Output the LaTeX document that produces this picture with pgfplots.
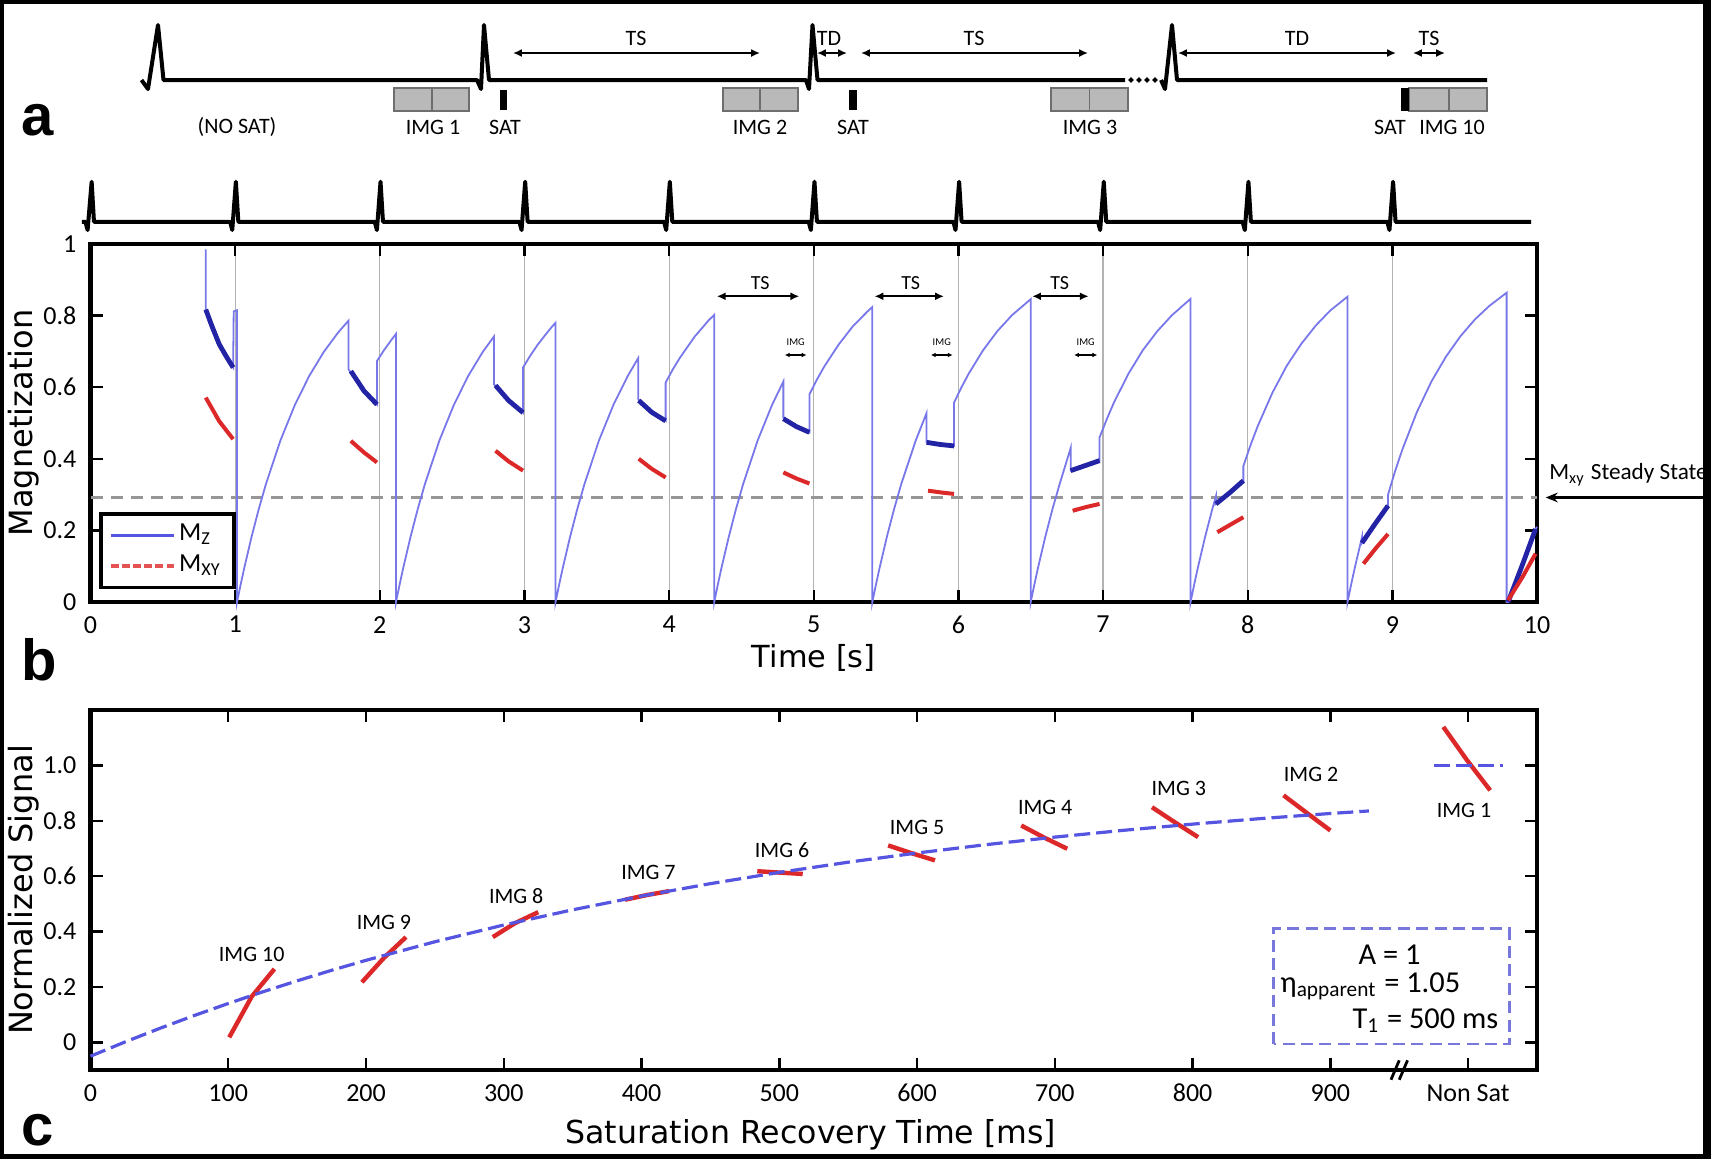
\documentclass[border=0pt]{standalone}
\usepackage{fontspec}
\setmainfont{Carlito}
\newfontfamily\dejavu{DejaVu Sans}
\newfontfamily\lsans{Liberation Sans}
\usepackage{pgfplots}
\pgfplotsset{compat=1.18}
\usetikzlibrary{arrows.meta}
\definecolor{mzthin}{RGB}{120,120,235}
\definecolor{mzdark}{RGB}{35,35,165}
\definecolor{mxyred}{RGB}{220,40,40}
\definecolor{fitblue}{RGB}{85,85,225}
\definecolor{boxblue}{RGB}{120,120,220}
\definecolor{boxgray}{RGB}{185,185,185}
\definecolor{boxedge}{RGB}{110,110,110}
\definecolor{ssgray}{RGB}{150,150,150}
\pgfplotsset{/pgf/number format/assume math mode=true}
\tikzset{
  dblarr/.style={{Latex[length=2.2pt,width=2pt]}-{Latex[length=2.2pt,width=2pt]}, line width=0.55pt},
  smallarr/.style={{Latex[length=1.2pt,width=1.2pt]}-{Latex[length=1.2pt,width=1.2pt]}, line width=0.35pt},
}
\pgfplotsset{
  mzd/.style={mzdark, line width=1.2pt, forget plot},
  mxyb/.style={mxyred, line width=1pt, forget plot},
  mxyc/.style={mxyred, line width=1.1pt, forget plot},
}
\begin{document}
\begin{tikzpicture}
\path[use as bounding box] (0,0) rectangle (427.75pt,-289.75pt);
\fill[white] (0,0) rectangle (427.75pt,-289.75pt);

% ---------------- Panel a (schematic, pixel coordinates) ----------------
\begin{axis}[at={(0pt,0pt)}, anchor=north west, scale only axis,
  width=427.75pt, height=37.5pt, xmin=0, xmax=1711, ymin=0, ymax=150,
  y dir=reverse, hide axis, clip=false]
\addplot[black, line width=1pt, line join=round] coordinates {
 (141.5,80)(148,89)(158,25)(163.5,80)
 (477,80)(481,89)(484,25)(489,80)
 (806,80)(809,89)(812.5,25)(817.5,80)(1125,80)};
\addplot[black, line width=1pt, line join=round] coordinates {
 (1161,80)(1165,89)(1172,25)(1177,80)(1487,80)};
\addplot[only marks, mark=*, mark size=0.45pt, black] coordinates {(1131,80)(1139,80)(1147,80)(1155,80)};
% image boxes
\draw[fill=boxgray, draw=boxedge, line width=0.4pt] (axis cs:394,88) rectangle (axis cs:469,111);
\draw[boxedge, line width=0.4pt] (axis cs:432,88) -- (axis cs:432,111);
\draw[fill=boxgray, draw=boxedge, line width=0.4pt] (axis cs:723,88) rectangle (axis cs:798,111);
\draw[boxedge, line width=0.4pt] (axis cs:760,88) -- (axis cs:760,111);
\draw[fill=boxgray, draw=boxedge, line width=0.4pt] (axis cs:1051,88) rectangle (axis cs:1128,111);
\draw[boxedge, line width=0.4pt] (axis cs:1089.5,88) -- (axis cs:1089.5,111);
\draw[fill=boxgray, draw=boxedge, line width=0.4pt] (axis cs:1409,88) rectangle (axis cs:1487,111);
\draw[boxedge, line width=0.4pt] (axis cs:1449,88) -- (axis cs:1449,111);
% SAT pulses
\fill[black] (axis cs:500,90) rectangle (axis cs:507,110);
\fill[black] (axis cs:849,90) rectangle (axis cs:857,110);
\fill[black] (axis cs:1401,88) rectangle (axis cs:1409,111);
% arrows
\draw[dblarr] (axis cs:513,53) -- (axis cs:760,53);
\draw[dblarr] (axis cs:817,53) -- (axis cs:847,53);
\draw[dblarr] (axis cs:861,53) -- (axis cs:1088,53);
\draw[dblarr] (axis cs:1178,53) -- (axis cs:1396,53);
\draw[dblarr] (axis cs:1413,53) -- (axis cs:1445,53);
\begin{scope}[every node/.style={font=\fontsize{5.5}{6}\selectfont, inner sep=0pt}]
\node at (axis cs:636,38) {TS};
\node at (axis cs:829,38) {TD};
\node at (axis cs:974,38) {TS};
\node at (axis cs:1297,38) {TD};
\node at (axis cs:1429,38) {TS};
\node at (axis cs:237,127) {(NO SAT)};
\node at (axis cs:433,127) {IMG 1};
\node at (axis cs:505,127) {SAT};
\node at (axis cs:760,127) {IMG 2};
\node at (axis cs:853,127) {SAT};
\node at (axis cs:1090,127) {IMG 3};
\node at (axis cs:1390,127) {SAT};
\node at (axis cs:1452,127) {IMG 10};
\end{scope}
\end{axis}

% ---------------- Panel b ----------------
\begin{axis}[at={(22.625pt,-150.5pt)}, anchor=south west, scale only axis,
  width=361.625pt, height=89.5pt,
  xmin=0, xmax=10, ymin=0, ymax=1,
  xtick={0,1,2,3,4,5,6,7,8,9,10}, ytick={0,0.2,0.4,0.6,0.8,1},
  tick label style={font=\fontsize{6.5}{7}\selectfont},
  major tick length=3pt, tick style={black, line width=0.6pt},
  axis line style={line width=1.1pt},
  xmajorgrids, grid style={black!30, line width=0.3pt},
  xlabel={Time [s]},
  xlabel style={font=\dejavu\fontsize{7.6}{9}\selectfont, at={(axis description cs:0.5,-0.157)}, anchor=center},
  ylabel={Magnetization},
  ylabel style={font=\dejavu\fontsize{8}{9}\selectfont, at={(axis description cs:-0.046,0.5)}, anchor=center},
  clip=false,
  legend style={at={(0.006,0.036)}, anchor=south west, draw=black, line width=0.9pt, fill=white,
    font=\fontsize{6.5}{7}\selectfont, inner xsep=2pt, inner ysep=1.5pt, row sep=0pt,
    nodes={inner sep=1pt}},
  legend cell align=left,
  legend image code/.code={\draw[#1] (0pt,0pt) -- (15.75pt,0pt);},
]
\addlegendimage{fitblue, line width=0.8pt}
\addlegendentry{M\textsubscript{Z}}
\addlegendimage{mxyred!80, line width=0.8pt, dash pattern=on 2pt off 0.8pt}
\addlegendentry{M\textsubscript{XY}}
% ECG trace
\addplot[black, line width=1pt, line join=round, forget plot] coordinates {
 (-0.06,1.062)
 (-0.035,1.062)(-0.02,1.039)(0.008,1.174)(0.024,1.062)
 (0.965,1.062)(0.98,1.039)(1.005,1.174)(1.022,1.062)
 (1.965,1.062)(1.98,1.039)(2.005,1.174)(2.022,1.062)
 (2.965,1.062)(2.98,1.039)(3.005,1.174)(3.022,1.062)
 (3.965,1.062)(3.98,1.039)(4.005,1.174)(4.022,1.062)
 (4.965,1.062)(4.98,1.039)(5.005,1.174)(5.022,1.062)
 (5.965,1.062)(5.98,1.039)(6.005,1.174)(6.022,1.062)
 (6.965,1.062)(6.98,1.039)(7.005,1.174)(7.022,1.062)
 (7.965,1.062)(7.98,1.039)(8.005,1.174)(8.022,1.062)
 (8.965,1.062)(8.98,1.039)(9.005,1.174)(9.022,1.062)
 (9.96,1.062)};
% steady state line
\addplot[ssgray, line width=0.6pt, dash pattern=on 3pt off 2pt, forget plot] coordinates {(0,0.292)(10,0.292)};
% Mz thin
\addplot[mzthin, line width=0.45pt, forget plot] coordinates {
(0.797,0.985)(0.797,0.817)(0.84,0.77)(0.89,0.72)(0.94,0.685)(0.986,0.655)(0.99,0.812)(1.013,0.815)(1.013,0)
(1.038,0.0488)(1.063,0.0952)(1.113,0.1813)(1.163,0.2592)(1.213,0.3297)(1.313,0.4512)(1.413,0.5507)(1.513,0.6321)(1.613,0.6988)(1.713,0.7534)(1.783,0.7856)(1.783,0.65)(1.88,0.597)(1.98,0.552)(1.98,0.673)(2.03,0.704)(2.08,0.732)(2.112,0.749)(2.112,0)
(2.137,0.0488)(2.162,0.0952)(2.212,0.1813)(2.262,0.2592)(2.312,0.3297)(2.412,0.4512)(2.512,0.5507)(2.612,0.6321)(2.712,0.6988)(2.79,0.742)(2.79,0.608)(2.89,0.566)(2.99,0.529)(2.99,0.655)(3.04,0.688)(3.09,0.718)(3.14,0.744)(3.19,0.769)(3.215,0.780)(3.215,0)
(3.24,0.0488)(3.265,0.0952)(3.315,0.1813)(3.365,0.2592)(3.415,0.3297)(3.515,0.4512)(3.615,0.5507)(3.715,0.6321)(3.786,0.681)(3.786,0.566)(3.88,0.533)(3.976,0.506)(3.976,0.613)(4.026,0.650)(4.076,0.683)(4.176,0.741)(4.276,0.788)(4.312,0.802)(4.312,0)
(4.337,0.0488)(4.362,0.0952)(4.412,0.1813)(4.462,0.2592)(4.512,0.3297)(4.612,0.4512)(4.712,0.5507)(4.79,0.616)(4.79,0.515)(4.88,0.493)(4.97,0.474)(4.97,0.58)(5.02,0.620)(5.07,0.656)(5.17,0.718)(5.27,0.770)(5.37,0.811)(5.405,0.824)(5.405,0)
(5.43,0.0488)(5.455,0.0952)(5.505,0.1813)(5.555,0.2592)(5.605,0.3297)(5.705,0.4512)(5.78,0.528)(5.78,0.446)(5.875,0.44)(5.97,0.436)(5.97,0.557)(6.02,0.599)(6.07,0.637)(6.17,0.703)(6.27,0.757)(6.37,0.801)(6.50,0.846)(6.50,0)
(6.525,0.0488)(6.55,0.0952)(6.60,0.1813)(6.65,0.2592)(6.70,0.3297)(6.776,0.43)(6.776,0.367)(6.876,0.381)(6.976,0.395)(6.976,0.46)(7.026,0.511)(7.076,0.558)(7.176,0.638)(7.276,0.704)(7.376,0.757)(7.476,0.801)(7.605,0.847)(7.605,0)
(7.63,0.0488)(7.655,0.0952)(7.705,0.1813)(7.755,0.2592)(7.78,0.295)(7.78,0.274)(7.875,0.305)(7.97,0.339)(7.97,0.38)(8.02,0.439)(8.07,0.492)(8.17,0.584)(8.27,0.660)(8.37,0.721)(8.47,0.772)(8.57,0.814)(8.69,0.853)(8.69,0)
(8.715,0.0488)(8.74,0.0952)(8.79,0.1813)(8.79,0.165)(8.88,0.218)(8.97,0.269)(8.97,0.30)(9.02,0.367)(9.07,0.427)(9.17,0.531)(9.27,0.616)(9.37,0.685)(9.47,0.742)(9.57,0.789)(9.67,0.827)(9.79,0.864)(9.79,0)(9.80,0.0)(9.9,0.105)(9.99,0.204)(10,0.21)};
% Mz during imaging (dark)
\addplot[mzd] coordinates {(0.797,0.817)(0.84,0.77)(0.89,0.72)(0.94,0.685)(0.986,0.655)};
\addplot[mzd] coordinates {(1.80,0.645)(1.89,0.59)(1.98,0.552)};
\addplot[mzd] coordinates {(2.80,0.605)(2.89,0.563)(2.99,0.529)};
\addplot[mzd] coordinates {(3.79,0.563)(3.88,0.53)(3.976,0.506)};
\addplot[mzd] coordinates {(4.79,0.512)(4.88,0.49)(4.97,0.474)};
\addplot[mzd] coordinates {(5.78,0.446)(5.875,0.44)(5.97,0.436)};
\addplot[mzd] coordinates {(6.776,0.367)(6.876,0.381)(6.976,0.395)};
\addplot[mzd] coordinates {(7.78,0.274)(7.875,0.305)(7.97,0.339)};
\addplot[mzd] coordinates {(8.79,0.165)(8.88,0.218)(8.97,0.269)};
\addplot[mzd] coordinates {(9.80,0.0)(9.9,0.105)(9.99,0.204)};
% Mxy during imaging (red)
\addplot[mxyb] coordinates {(0.797,0.571)(0.89,0.505)(0.986,0.455)};
\addplot[mxyb] coordinates {(1.80,0.450)(1.89,0.418)(1.98,0.39)};
\addplot[mxyb] coordinates {(2.80,0.4225)(2.89,0.393)(2.99,0.367)};
\addplot[mxyb] coordinates {(3.79,0.40)(3.88,0.372)(3.976,0.348)};
\addplot[mxyb] coordinates {(4.79,0.362)(4.88,0.345)(4.97,0.331)};
\addplot[mxyb] coordinates {(5.79,0.311)(5.88,0.306)(5.97,0.302)};
\addplot[mxyb] coordinates {(6.79,0.255)(6.88,0.265)(6.976,0.274)};
\addplot[mxyb] coordinates {(7.79,0.195)(7.88,0.216)(7.97,0.237)};
\addplot[mxyb] coordinates {(8.80,0.107)(8.885,0.15)(8.97,0.19)};
\addplot[mxyb] coordinates {(9.80,0.005)(9.90,0.07)(9.99,0.135)};
% annotations
\draw[dblarr] (axis cs:4.33,0.854) -- (axis cs:4.90,0.854);
\draw[dblarr] (axis cs:5.42,0.854) -- (axis cs:5.90,0.854);
\draw[dblarr] (axis cs:6.51,0.854) -- (axis cs:6.90,0.854);
\draw[smallarr] (axis cs:4.80,0.69) -- (axis cs:4.95,0.69);
\draw[smallarr] (axis cs:5.81,0.69) -- (axis cs:5.96,0.69);
\draw[smallarr] (axis cs:6.80,0.69) -- (axis cs:6.96,0.69);
\begin{scope}[every node/.style={font=\fontsize{5}{6}\selectfont, inner sep=0pt}]
\node at (axis cs:4.63,0.891) {TS};
\node at (axis cs:5.67,0.891) {TS};
\node at (axis cs:6.70,0.891) {TS};
\end{scope}
\begin{scope}[every node/.style={font=\fontsize{2.6}{3}\selectfont, inner sep=0pt}]
\node at (axis cs:4.875,0.726) {IMG};
\node at (axis cs:5.885,0.726) {IMG};
\node at (axis cs:6.88,0.726) {IMG};
\end{scope}
\draw[{Stealth[length=3pt,width=2.4pt]}-, line width=0.7pt] (axis cs:10.06,0.292) -- (axis cs:11.3,0.292);
\node[anchor=west, font=\fontsize{5.8}{7}\selectfont, inner sep=0pt] at (axis cs:10.08,0.355) {M\textsubscript{xy} Steady State};
\end{axis}

% ---------------- Panel c ----------------
\begin{axis}[at={(22.625pt,-267.5pt)}, anchor=south west, scale only axis,
  width=361.625pt, height=90pt,
  xmin=0, xmax=1050, ymin=-0.1, ymax=1.2,
  xtick={0,100,200,300,400,500,600,700,800,900,1000},
  xticklabels={0,100,200,300,400,500,600,700,800,900,Non Sat},
  ytick={0,0.2,0.4,0.6,0.8,1}, yticklabels={0,0.2,0.4,0.6,0.8,1.0},
  tick label style={font=\fontsize{6.5}{7}\selectfont},
  major tick length=3pt, tick style={black, line width=0.6pt},
  axis line style={line width=1.1pt},
  xlabel={Saturation Recovery Time [ms]},
  xlabel style={font=\dejavu\fontsize{7.9}{9}\selectfont, at={(axis description cs:0.498,-0.18)}, anchor=center},
  ylabel={Normalized Signal},
  ylabel style={font=\dejavu\fontsize{8}{9}\selectfont, at={(axis description cs:-0.046,0.5)}, anchor=center},
  clip=false,
]
\addplot[mxyc] coordinates {(100.7,0.018)(117,0.165)(133.5,0.265)};
\addplot[mxyc] coordinates {(197,0.217)(213,0.305)(229,0.38)};
\addplot[mxyc] coordinates {(292,0.38)(308,0.43)(325,0.47)};
\addplot[mxyc] coordinates {(388,0.515)(404,0.532)(420,0.546)};
\addplot[mxyc] coordinates {(484,0.618)(500,0.613)(517,0.608)};
\addplot[mxyc] coordinates {(579,0.711)(596,0.683)(613,0.657)};
\addplot[mxyc] coordinates {(675.6,0.783)(692,0.74)(709,0.699)};
\addplot[mxyc] coordinates {(770.5,0.849)(787,0.795)(804,0.741)};
\addplot[mxyc] coordinates {(866,0.892)(883,0.828)(900,0.765)};
\addplot[mxyc] coordinates {(982,1.139)(999,1.02)(1016,0.91)};
\addplot[fitblue, line width=0.8pt, dash pattern=on 4pt off 1.5pt, forget plot] coordinates {
(0,-0.05)(25,0.0012)(50,0.0499)(75,0.0963)(100,0.1403)(125,0.1823)(150,0.2221)(175,0.2601)(200,0.2962)(250,0.3632)(300,0.4238)(350,0.4786)(400,0.5282)(450,0.5731)(500,0.6137)(550,0.6505)(600,0.6837)(650,0.7138)(700,0.7411)(750,0.7657)(800,0.7880)(850,0.8082)(900,0.8264)(928,0.8355)};
\addplot[fitblue, line width=0.8pt, dash pattern=on 4pt off 1.5pt, forget plot] coordinates {(975,1)(1025,1)};
\begin{scope}[every node/.style={font=\fontsize{5.5}{6}\selectfont, inner sep=0pt}]
\node at (axis cs:117,0.319) {IMG 10};
\node at (axis cs:213,0.434) {IMG 9};
\node at (axis cs:309,0.527) {IMG 8};
\node at (axis cs:405,0.614) {IMG 7};
\node at (axis cs:502,0.693) {IMG 6};
\node at (axis cs:600,0.777) {IMG 5};
\node at (axis cs:693,0.849) {IMG 4};
\node at (axis cs:790,0.916) {IMG 3};
\node at (axis cs:886,0.966) {IMG 2};
\node at (axis cs:997,0.837) {IMG 1};
\end{scope}
\draw[boxblue, line width=0.7pt, dash pattern=on 3pt off 1.6pt] (axis cs:859,-0.006) rectangle (axis cs:1030,0.41);
\begin{scope}[every node/.style={font=\fontsize{7.6}{8}\selectfont, inner sep=0pt}]
\node at (axis cs:943,0.316) {A = 1};
\node at (axis cs:929,0.203) {η\textsubscript{apparent} = 1.05};
\node at (axis cs:969,0.08) {T\textsubscript{1} = 500 ms};
\end{scope}
\draw[black, line width=0.7pt] (axis cs:944,-0.135) -- (axis cs:950,-0.065);
\draw[black, line width=0.7pt] (axis cs:950,-0.135) -- (axis cs:956,-0.065);
\end{axis}

% panel letters
\node[anchor=base, font=\lsans\bfseries\fontsize{14.5}{16}\selectfont, inner sep=0pt] at (9.5pt,-33.75pt) {a};
\node[anchor=base, font=\lsans\bfseries\fontsize{14.5}{16}\selectfont, inner sep=0pt] at (9.75pt,-170pt) {b};
\node[anchor=base, font=\lsans\bfseries\fontsize{14.5}{16}\selectfont, inner sep=0pt] at (9.5pt,-286.25pt) {c};

% outer black border
\fill[black] (0,0) rectangle (1.1pt,-289.75pt);
\fill[black] (0,0) rectangle (427.75pt,-1pt);
\fill[black] (425.75pt,0) rectangle (427.75pt,-289.75pt);
\fill[black] (0,-288.5pt) rectangle (427.75pt,-289.75pt);
\end{tikzpicture}
\end{document}
